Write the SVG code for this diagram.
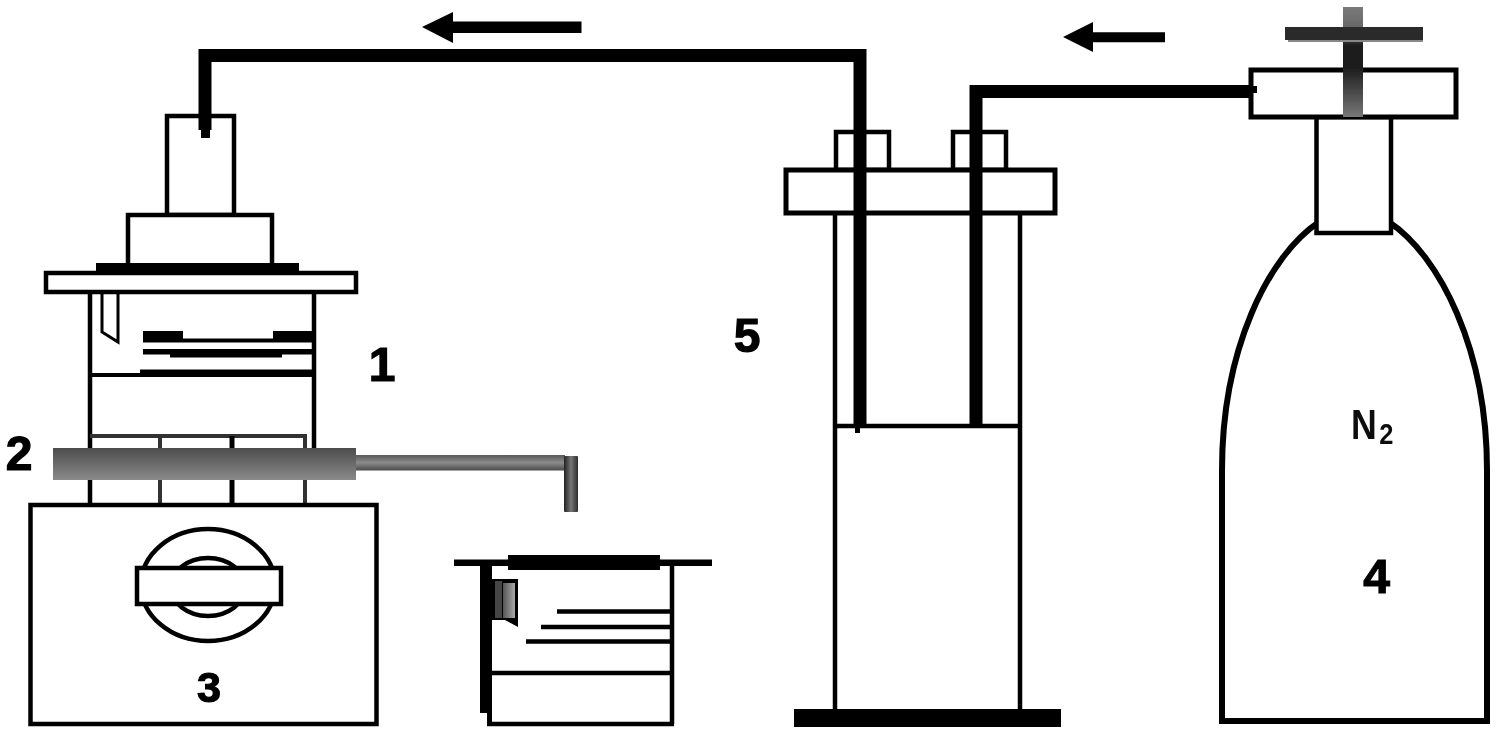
<svg xmlns="http://www.w3.org/2000/svg" width="1500" height="733" viewBox="0 0 1500 733">
<defs>
<filter id="soft" x="0" y="0" width="1500" height="733" filterUnits="userSpaceOnUse"><feGaussianBlur stdDeviation="0.6"/></filter>
<linearGradient id="barV" x1="0" y1="0" x2="0" y2="1"><stop offset="0" stop-color="#4c4c4c"/><stop offset="1" stop-color="#8a8a8a"/></linearGradient>
<linearGradient id="rodV" x1="0" y1="0" x2="0" y2="1"><stop offset="0" stop-color="#5a5a5a"/><stop offset="0.5" stop-color="#8c8c8c"/><stop offset="1" stop-color="#4a4a4a"/></linearGradient>
<linearGradient id="tipH" x1="0" y1="0" x2="1" y2="0"><stop offset="0" stop-color="#222"/><stop offset="0.5" stop-color="#777"/><stop offset="1" stop-color="#2c2c2c"/></linearGradient>
<linearGradient id="stem" x1="0" y1="0" x2="0" y2="1"><stop offset="0" stop-color="#7a7a7a"/><stop offset="0.2" stop-color="#666"/><stop offset="0.35" stop-color="#1c1c1c"/><stop offset="0.55" stop-color="#1c1c1c"/><stop offset="1" stop-color="#777"/></linearGradient>
<linearGradient id="insert" x1="0" y1="0" x2="1" y2="0"><stop offset="0" stop-color="#555"/><stop offset="1" stop-color="#aaa"/></linearGradient>
</defs>
<style>
.o{fill:#fff;stroke:#000;stroke-width:4.500}
.n{fill:none;stroke:#000;stroke-width:4.500}
.k{fill:#000}
.tube{fill:none;stroke:#000;stroke-width:13}
.lab{font-family:"Liberation Sans",Arial,sans-serif;font-weight:bold;font-size:48px;fill:#000;stroke:#000;stroke-width:1.200;text-anchor:middle}
.gas{font-family:"Liberation Sans",Arial,sans-serif;font-weight:bold;font-size:42px;fill:#111}
</style>
<rect width="1500" height="733" fill="#fff"/>
<g filter="url(#soft)">

<g id="node-1-reactor">
<rect class="o" x="167" y="116" width="67" height="99"/>
<rect class="o" x="128" y="215" width="144" height="52"/>
<rect class="k" x="96" y="263" width="203" height="10"/>
<rect class="o" x="46" y="273" width="310" height="19"/>
<path class="n" d="M90 292V503M314 292V448"/>
<path d="M102 292V332L118 342V292" fill="none" stroke="#000" stroke-width="3"/>
<rect class="k" x="143" y="331" width="40" height="8"/>
<rect class="k" x="273" y="331" width="41" height="9"/>
<rect class="k" x="143" y="338.500" width="171" height="4"/>
<rect class="k" x="143" y="349" width="171" height="5.500"/>
<rect class="k" x="170" y="354" width="112" height="3.500"/>
<rect class="k" x="140" y="369.500" width="174" height="6.500"/>
<rect class="k" x="90" y="373" width="224" height="4"/>
<text class="lab" x="382" y="381">1</text>
</g>

<g id="node-2-jacket">
<path d="M90 436H305V503M160 436V503" fill="none" stroke="#333" stroke-width="4"/>
<path d="M232 436V503" fill="none" stroke="#000" stroke-width="5"/>
<rect x="53" y="448" width="303" height="32" fill="url(#barV)"/>
<rect x="356" y="455" width="209" height="15.500" fill="url(#rodV)"/>
<rect x="564" y="456" width="14" height="56" rx="1" fill="url(#tipH)"/>
<text class="lab" x="19" y="470">2</text>
</g>

<g id="node-3-stirrer">
<rect class="o" x="30.500" y="505" width="346" height="219"/>
<ellipse class="n" cx="208" cy="585" rx="67" ry="56"/>
<ellipse class="n" cx="208" cy="587" rx="37" ry="29" fill="#eee"/>
<rect class="o" x="137" y="568" width="144" height="36"/>
<text class="lab" x="209" y="702" style="font-size:43px">3</text>
</g>

<g id="node-collector">
<rect class="k" x="454" y="559.500" width="258" height="6.500"/>
<rect class="k" x="508" y="555" width="152" height="15"/>
<path class="k" d="M480 563H492V724H487V713H480Z"/>
<path class="n" d="M487 724H674M672 563V724"/>
<path class="k" d="M492 579H518V627L505 620H492Z"/>
<rect x="495" y="581" width="7" height="37" fill="#444"/>
<rect x="503" y="583" width="12" height="35" fill="url(#insert)"/>
<path class="n" d="M557 611.500H672M541 627H672M526 641.500H672M491 673H672"/>
</g>

<g id="node-5-trap">
<rect class="o" x="836" y="132" width="53" height="38"/>
<rect class="o" x="953" y="132" width="53" height="38"/>
<path class="n" d="M835 212V724M1020 212V724M835 426H1020"/>
<rect class="k" x="794" y="709" width="267" height="18"/>
<rect class="o" x="786" y="170" width="269" height="43" style="stroke-width:5"/>
<text class="lab" x="747" y="352">5</text>
</g>

<g id="node-4-cylinder">
<path d="M1319 222C1268 256 1222 350 1222 470V721H1487V470C1487 350 1440 256 1389 222" fill="#fff" stroke="#000" stroke-width="6"/>
<rect class="o" x="1316.500" y="117" width="74.500" height="116"/>
<rect class="o" x="1251" y="70" width="205" height="47" style="stroke-width:5"/>
<rect x="1343" y="7" width="20" height="110" fill="url(#stem)"/>
<rect x="1288" y="37" width="135" height="5" fill="#888"/>
<rect x="1285" y="27" width="138" height="13" fill="#2a2a2a"/>
<text class="gas" transform="translate(1351 439) scale(0.85 1)">N<tspan font-size="30" dx="3" dy="5">2</tspan></text>
<text class="lab" x="1376.500" y="593">4</text>
</g>

<g id="connectors">
<path class="tube" d="M205 130V55.500H860V426"/>
<rect class="k" x="201" y="128" width="9" height="10"/>
<rect class="k" x="855" y="424" width="5" height="9"/>
<path class="tube" d="M976 427V91.500H1251"/>
<rect class="k" x="1250" y="86" width="7" height="7"/>
<path class="k" d="M422 27L453 12V21.500H581.500V33H453V43Z"/>
<path class="k" d="M1063 37L1093 22V32.300H1165V42.300H1093V52Z"/>
</g>
</g>
</svg>
